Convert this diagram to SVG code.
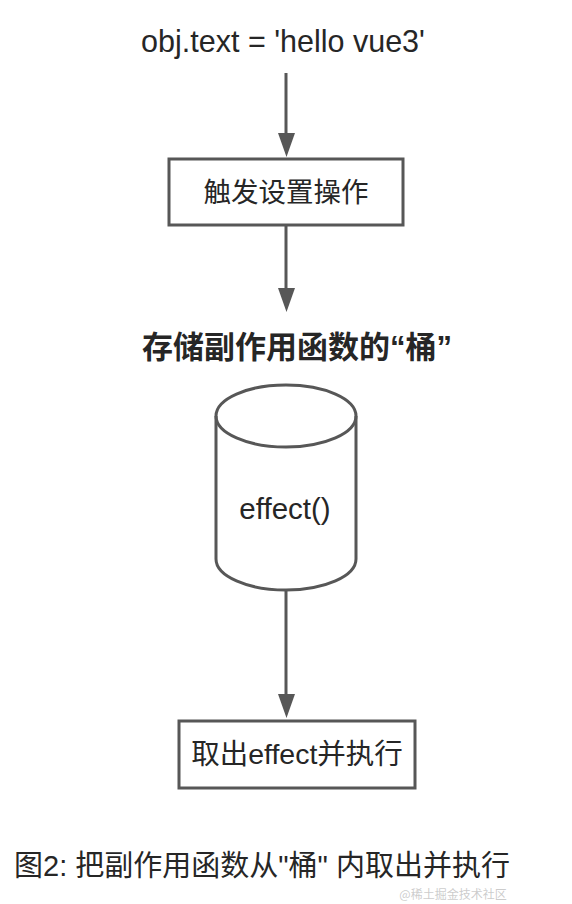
<svg xmlns="http://www.w3.org/2000/svg" width="572" height="904" viewBox="0 0 572 904">
<defs>
<style>
.t{font-family:"Liberation Sans","Noto Sans CJK SC",sans-serif;fill:#262626;text-anchor:middle;dominant-baseline:central}
.s{fill:#fff;stroke:#575757;stroke-width:3}
.c{stroke:#575757;stroke-width:3;fill:none}
.h{fill:#575757}
</style>
</defs>
<rect width="572" height="904" fill="#fff"/>
<g id="connectors">
<path class="c" d="M286,73 V134"/><path class="h" d="M278,133 L295,133 L286.5,157 z"/>
<path class="c" d="M286,225 V289"/><path class="h" d="M278,288 L295,288 L286.5,312 z"/>
<path class="c" d="M286,590 V695"/><path class="h" d="M278,694 L295,694 L286.5,718 z"/>
</g>
<g id="start"><text class="t" x="283" y="41" font-size="30.5">obj.text = 'hello vue3'</text></g>
<g id="trigger">
<rect class="s" x="169" y="159" width="234" height="66"/>
<text class="t" x="286" y="192" font-size="27.5">触发设置操作</text>
</g>
<g id="bucket-label"><text class="t" x="297" y="347" font-size="31" font-weight="bold">存储副作用函数的“桶”</text></g>
<g id="bucket">
<path class="s" d="M216,416 V559 A70,31 0 0 0 356,559 V416 A70,31 0 0 0 216,416 Z"/>
<path class="c" d="M216,416 A70,31 0 0 0 356,416"/>
<text class="t" x="285" y="508" font-size="29.5">effect()</text>
</g>
<g id="run">
<rect class="s" x="179" y="721" width="236" height="67"/>
<text class="t" x="297" y="754" font-size="28.5">取出effect并执行</text>
</g>
<g id="caption"><text class="t" x="262" y="866" font-size="29">图2: 把副作用函数从"桶" 内取出并执行</text></g>
<g id="watermark"><text x="453" y="899" font-size="12" text-anchor="middle" font-family="'Noto Sans CJK SC',sans-serif" fill="#999" fill-opacity="0.5">@稀土掘金技术社区</text></g>
</svg>
